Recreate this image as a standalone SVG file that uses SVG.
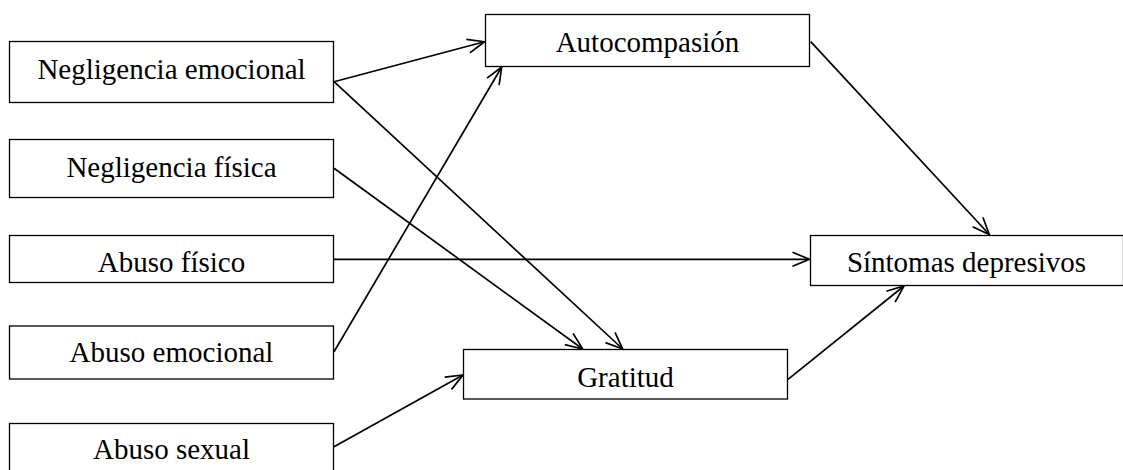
<svg xmlns="http://www.w3.org/2000/svg" width="1123" height="470" viewBox="0 0 1123 470">
<style>
.box{fill:#fff;stroke:#000;stroke-width:1.3}
.lbl{font-family:"Liberation Serif","Times New Roman",serif;font-size:29px;fill:#000;text-anchor:middle}
.edge{fill:none;stroke:#000;stroke-width:1.7}
</style>
<defs>
<marker id="arr" viewBox="0 0 19 16" refX="18" refY="8" markerWidth="19" markerHeight="16" markerUnits="userSpaceOnUse" orient="auto">
<path d="M1,1 L18,8 L1,15" fill="none" stroke="#000" stroke-width="1.7"/>
</marker>
</defs>
<rect width="1123" height="470" fill="#fff"/>
<g id="connectors">
<line class="edge" x1="334" y1="81.7" x2="484.5" y2="41.7" marker-end="url(#arr)"/>
<line class="edge" x1="334" y1="81.7" x2="622.7" y2="349" marker-end="url(#arr)"/>
<line class="edge" x1="334" y1="168.3" x2="582.7" y2="349" marker-end="url(#arr)"/>
<line class="edge" x1="334" y1="259.3" x2="809.5" y2="259.3" marker-end="url(#arr)"/>
<line class="edge" x1="334" y1="351.7" x2="501.7" y2="67" marker-end="url(#arr)"/>
<line class="edge" x1="334" y1="446.7" x2="463" y2="375" marker-end="url(#arr)"/>
<line class="edge" x1="810.7" y1="41.7" x2="989.3" y2="234.5" marker-end="url(#arr)"/>
<line class="edge" x1="788" y1="379.3" x2="904" y2="286" marker-end="url(#arr)"/>
</g>
<g id="negligencia-emocional"><rect class="box" x="9.5" y="41.5" width="324" height="61"/><text class="lbl" x="171.5" y="79">Negligencia emocional</text></g>
<g id="negligencia-fisica"><rect class="box" x="9.5" y="139.5" width="324" height="58"/><text class="lbl" x="171.5" y="176.7">Negligencia física</text></g>
<g id="abuso-fisico"><rect class="box" x="9.5" y="235.5" width="324" height="47"/><text class="lbl" x="171.5" y="271.7">Abuso físico</text></g>
<g id="abuso-emocional"><rect class="box" x="9.5" y="326" width="324" height="53"/><text class="lbl" x="171.5" y="361.7">Abuso emocional</text></g>
<g id="abuso-sexual"><rect class="box" x="9.5" y="423.5" width="324" height="60"/><text class="lbl" x="171.5" y="459.3">Abuso sexual</text></g>
<g id="autocompasion"><rect class="box" x="485.5" y="14.5" width="324" height="52"/><text class="lbl" x="647.5" y="52.3">Autocompasión</text></g>
<g id="gratitud"><rect class="box" x="463.5" y="349.5" width="324" height="49.5"/><text class="lbl" x="625.5" y="386.7">Gratitud</text></g>
<g id="sintomas-depresivos"><rect class="box" x="810.5" y="235.5" width="313" height="50"/><text class="lbl" x="966.5" y="271.7">Síntomas depresivos</text></g>
</svg>
